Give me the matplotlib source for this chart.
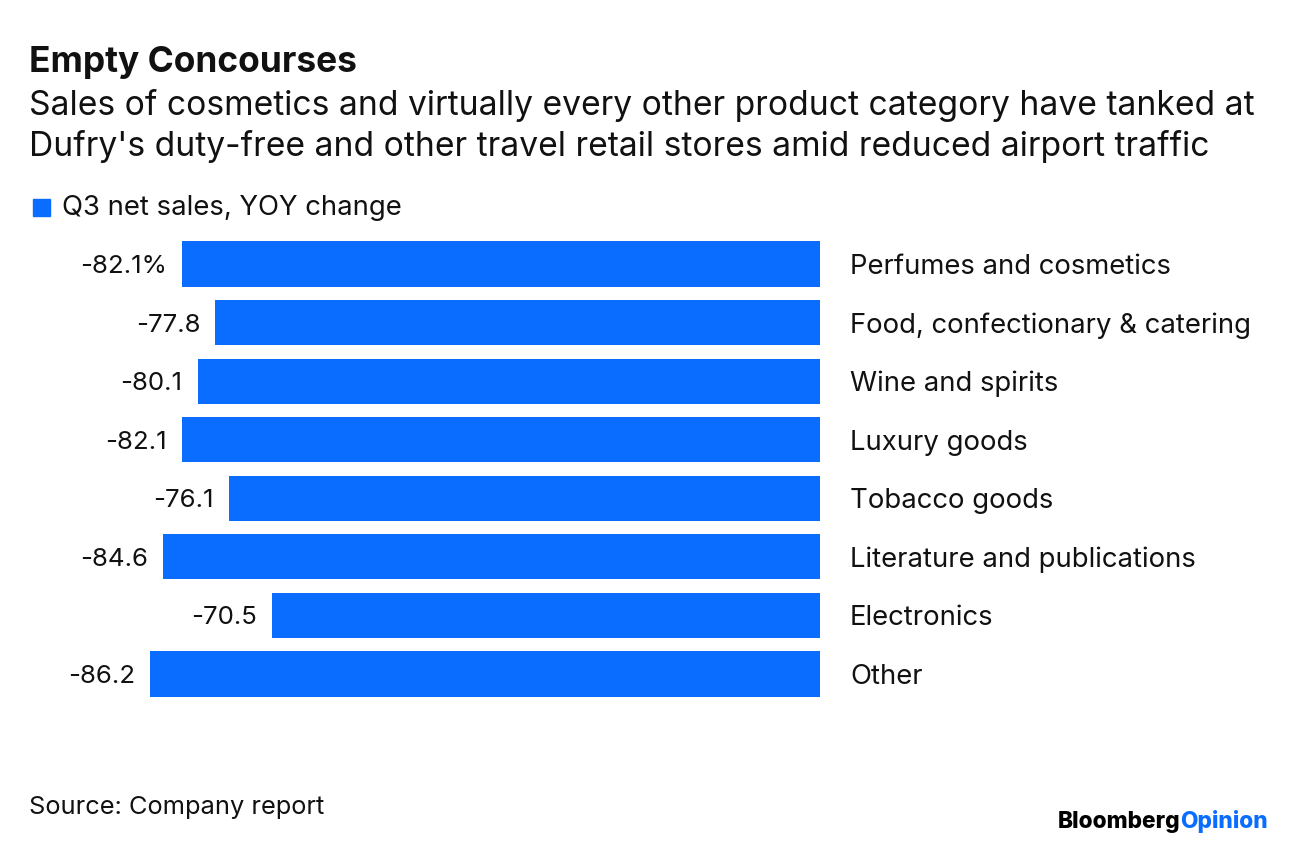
import matplotlib
matplotlib.use("Agg")
import matplotlib.pyplot as plt

categories = ["Perfumes and cosmetics", "Food, confectionary & catering", "Wine and spirits",
              "Luxury goods", "Tobacco goods", "Literature and publications", "Electronics", "Other"]
values = [-82.1, -77.8, -80.1, -82.1, -76.1, -84.6, -70.5, -86.2]
value_labels = ["-82.1%", "-77.8", "-80.1", "-82.1", "-76.1", "-84.6", "-70.5", "-86.2"]

BLUE = "#0a6dff"
FONT = "Inter"
plt.rcParams['font.family'] = [FONT, 'DejaVu Sans']

W, H = 1296, 846
fig = plt.figure(figsize=(W / 100, H / 100), dpi=100)
renderer = fig.canvas.get_renderer()


def fit(t, width_px):
    """Scale a text's font size so that its rendered width matches width_px."""
    bb = t.get_window_extent(renderer=renderer)
    t.set_fontsize(t.get_fontsize() * width_px / bb.width)


# axes in pixel coords
left_px, right_px = 120.7, 820
top_px, bot_px = 234.7, 703.3
ax = fig.add_axes([left_px / W, 1 - bot_px / H, (right_px - left_px) / W, (bot_px - top_px) / H])
ax.barh(range(len(values)), values, height=0.77, color=BLUE)
ax.set_xlim(-90, 0)
ax.set_ylim(len(values) - 0.5, -0.5)
ax.axis("off")

val_texts, cat_texts = [], []
for i, (v, lab, cat) in enumerate(zip(values, value_labels, categories)):
    val_texts.append(ax.annotate(lab, xy=(v, i), xytext=(-15, 0), textcoords="offset pixels",
                                 ha="right", va="center_baseline", fontsize=18, color="#111111"))
    cat_texts.append(ax.annotate(cat, xy=(0, i), xytext=(30, 0), textcoords="offset pixels",
                                 ha="left", va="center_baseline", fontsize=18, color="#111111"))

# size labels to match the reference widths
bb = val_texts[0].get_window_extent(renderer=renderer)
vfs = 18 * 87 / bb.width
for t in val_texts:
    t.set_fontsize(vfs)
bb = cat_texts[1].get_window_extent(renderer=renderer)
cfs = 18 * 400 / bb.width
for t in cat_texts:
    t.set_fontsize(cfs)


def fy(py):
    return 1 - py / H


t = fig.text(29 / W, fy(72), "Empty Concourses", fontsize=23, fontweight="bold", va="baseline", color="#111111")
fit(t, 327)
t = fig.text(29 / W, fy(115), "Sales of cosmetics and virtually every other product category have tanked at",
             fontsize=20.5, va="baseline", color="#111111")
fit(t, 1223)
sub_fs = t.get_fontsize()
fig.text(29 / W, fy(156), "Dufry's duty-free and other travel retail stores amid reduced airport traffic",
         fontsize=sub_fs, va="baseline", color="#111111")

# legend
fig.patches.append(plt.Rectangle((33 / W, fy(216)), 17 / W, 17 / H, transform=fig.transFigure,
                                 color=BLUE, figure=fig))
t = fig.text(62 / W, fy(215), "Q3 net sales, YOY change", fontsize=18, va="baseline", color="#111111")
fit(t, 340)

t = fig.text(29 / W, fy(814), "Source: Company report", fontsize=17, va="baseline", color="#111111")
fit(t, 296)

# logo
t1 = fig.text(1268 / W, fy(828), "Opinion", fontsize=17, fontweight="heavy", color=BLUE,
              ha="right", va="baseline")
fit(t1, 88)
bb = t1.get_window_extent(renderer=renderer)
t2 = fig.text(bb.x0 / W, fy(828), "Bloomberg", fontsize=t1.get_fontsize(), fontweight="heavy",
              color="#000000", ha="right", va="baseline")

fig.savefig("out.png", dpi=100)
